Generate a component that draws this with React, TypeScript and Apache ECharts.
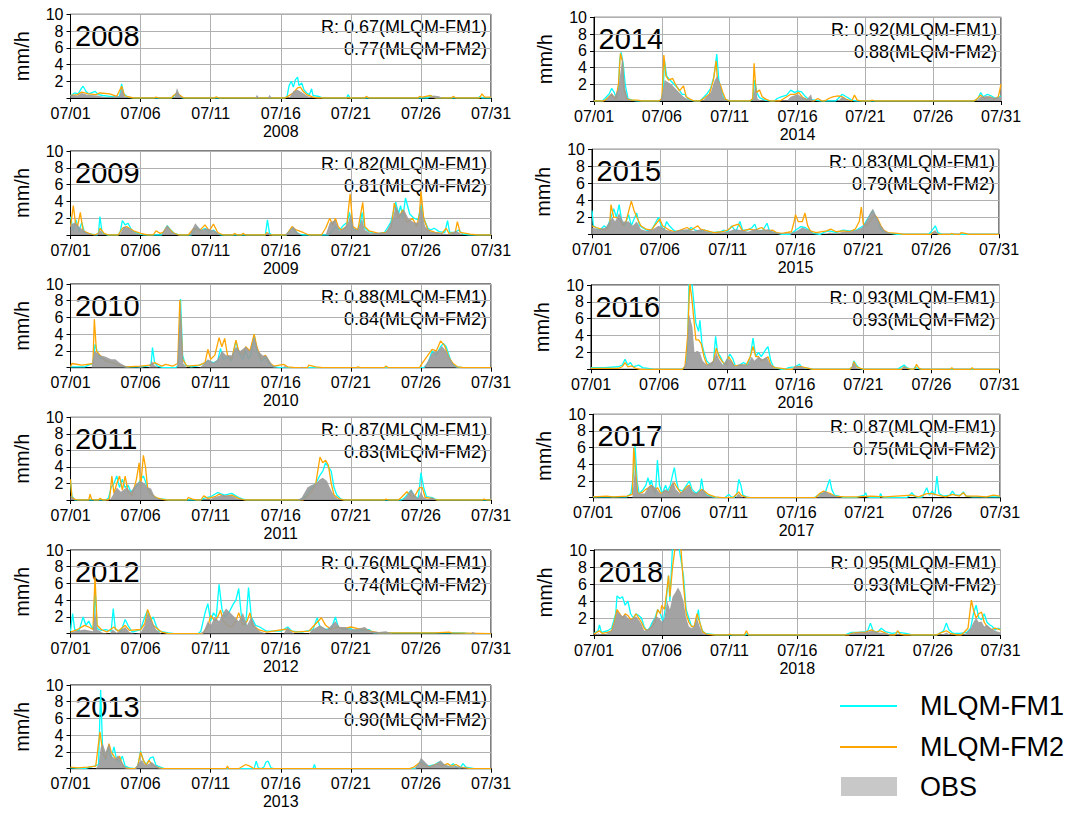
import React, { useEffect, useRef } from 'react';
import * as echarts from 'echarts';

// ---------------- DATA ----------------
const YEARS = [2008, 2009, 2010, 2011, 2012, 2013, 2014, 2015, 2016, 2017, 2018];
const R_FM1 = ['0.67', '0.82', '0.88', '0.87', '0.76', '0.83', '0.92', '0.83', '0.93', '0.87', '0.95'];
const R_FM2 = ['0.77', '0.81', '0.84', '0.83', '0.74', '0.90', '0.88', '0.79', '0.93', '0.75', '0.93'];
const X_TICKS_DAYS = [0, 5, 10, 15, 20, 25, 30];
const Y_TICKS = [2, 4, 6, 8, 10];
const LEGEND_NAMES = ['MLQM-FM1', 'MLQM-FM2', 'OBS'];

// [day offset from 07/01 00:00, mm/h]
const FM1_2008 = [[0,0.3],[0.3,0.6],[0.55,0.5],[0.8,1.2],[0.9,1.4],[1.1,0.8],[1.3,0.5],[1.75,0.8],[2,0.4],[2.3,0.3],[2.8,0.2],[3.3,0.1],[3.5,0.2],[3.65,1.7],[3.8,0.5],[4.1,0.1],[4.5,0],[7.2,0],[7.3,0.1],[7.6,0.6],[7.8,0.1],[8,0],[15.3,0],[15.45,0.2],[15.6,1.5],[15.75,2.0],[15.9,1.3],[16.05,2.2],[16.2,2.5],[16.3,1.5],[16.5,1.8],[16.65,1.0],[16.85,0.6],[17.05,0.4],[17.2,1.1],[17.3,0.3],[17.7,0.2],[18,0],[19.7,0],[19.8,0.4],[19.95,0],[25.5,0],[25.7,0.3],[25.9,0.1],[26.1,0],[29.1,0],[29.2,0.2],[29.35,0],[30,0]];
const FM2_2008 = [[0,0.3],[0.5,0.4],[0.8,0.7],[1.3,0.5],[1.8,0.4],[2.1,0.6],[2.8,0.5],[3.3,0.2],[3.65,1.4],[3.85,0.3],[4.1,0.15],[4.5,0],[6,0],[6.1,0.1],[6.3,0],[7.2,0],[7.35,0.3],[7.6,0.6],[7.9,0.2],[8.1,0],[10.3,0],[10.4,0.15],[10.6,0],[15.3,0],[15.5,0.2],[15.9,0.6],[16.2,1.2],[16.4,1.3],[16.6,0.8],[16.85,0.4],[17.3,0.1],[17.6,0],[21,0],[21.1,0.2],[21.3,0],[24.8,0],[24.9,0.2],[25.1,0.1],[25.7,0.3],[26.0,0],[27.2,0],[27.3,0.2],[27.5,0],[29.2,0],[29.35,0.5],[29.55,0.1],[30,0.1]];
const OBS_2008 = [[0,0.4],[0.5,0.3],[0.8,0.6],[1.2,0.4],[1.9,0.3],[2.5,0.1],[3.5,0.2],[3.65,1.2],[3.85,0.2],[4.1,0],[7.4,0],[7.6,1.2],[7.8,0.3],[8,0],[13.2,0],[13.3,0.4],[13.45,0],[14.1,0],[14.2,0.4],[14.35,0],[15.6,0],[15.9,0.8],[16.2,1.0],[16.5,0.7],[16.85,0.3],[17.2,0],[25.7,0],[25.9,0.3],[26.3,0.2],[26.5,0],[30,0]];

const FM1_2009 = [[0,2.2],[0.2,0.5],[0.4,1.8],[0.6,0.4],[0.8,1.5],[1.0,0.3],[1.5,0.1],[1.9,0],[2.0,0.3],[2.1,2.2],[2.25,0.3],[2.6,0],[3.4,0],[3.55,0.4],[3.7,1.7],[3.9,1.2],[4.1,1.4],[4.4,0.5],[4.8,0.2],[5.2,0],[6.5,0],[6.9,1.1],[7.1,0.7],[7.4,0.2],[7.8,0],[8.6,0],[9.0,0.9],[9.3,0.5],[9.6,0.8],[9.9,0.3],[10.2,0.6],[10.5,0.1],[10.8,0],[13.9,0],[14.05,1.8],[14.2,0.2],[14.4,0],[15.4,0],[15.8,0.9],[16.0,0.5],[16.3,0.1],[16.6,0],[18.4,0],[18.6,0.3],[18.9,1.0],[19.2,0.6],[19.5,1.2],[19.75,1.5],[19.9,2.7],[20.1,0.8],[20.4,0.5],[20.65,1.2],[20.8,2.7],[21.0,0.8],[21.3,0.4],[21.8,0.1],[22.4,0.3],[22.85,1.5],[23.2,3.9],[23.4,2.5],[23.55,3.5],[23.7,2.0],[23.9,4.4],[24.2,2.5],[24.5,2.0],[24.8,1.8],[25.0,3.6],[25.2,2.0],[25.5,0.8],[25.7,0.6],[25.95,0.8],[26.3,0.4],[26.7,0.3],[26.9,1.7],[27.05,0.3],[27.4,0.3],[27.7,0.6],[28.0,0.1],[28.5,0],[30,0]];
const FM2_2009 = [[0,1.0],[0.2,3.5],[0.35,1.5],[0.5,1.0],[0.7,2.7],[0.9,0.5],[1.3,0.2],[1.7,0],[2.0,0.2],[2.1,0.8],[2.4,0.2],[2.7,0],[3.4,0],[3.7,0.8],[4.0,1.0],[4.5,0.5],[5.0,0.2],[5.5,0],[5.9,0],[6.1,0.5],[6.4,0.2],[6.6,0.3],[6.9,1.0],[7.3,0.3],[7.7,0],[8.4,0],[8.8,0.8],[9.2,0.5],[9.6,1.2],[9.9,0.5],[10.2,1.3],[10.5,0.3],[10.9,0],[11.6,0],[11.7,0.2],[11.9,0],[12.2,0],[12.3,0.2],[12.5,0],[13.9,0],[14.0,0.3],[14.2,0],[15.4,0],[15.8,1.0],[16.1,0.6],[16.6,0.3],[17.0,0],[17.9,0],[18.2,0.8],[18.5,2.0],[18.7,1.2],[18.9,2.0],[19.1,1.0],[19.3,0.6],[19.7,1.0],[19.95,4.9],[20.15,1.0],[20.5,0.6],[20.85,3.9],[21.0,1.0],[21.3,0.5],[22.0,0.2],[22.5,0.3],[22.9,1.0],[23.1,3.8],[23.4,2.0],[23.7,3.0],[24.0,1.5],[24.4,2.0],[24.7,1.0],[24.9,2.5],[25.0,5.2],[25.2,2.0],[25.5,0.6],[26.0,0.3],[26.5,0.2],[26.8,0.8],[27.0,0.2],[27.45,0.3],[27.6,1.6],[27.8,0.3],[28.5,0.1],[29,0],[30,0]];
const OBS_2009 = [[0,1.2],[0.3,1.5],[0.6,1.0],[0.9,0.6],[1.2,0.2],[1.6,0],[1.9,0],[2.1,0.6],[2.4,0],[3.5,0],[3.8,1.0],[4.2,0.8],[4.6,0.3],[5.0,0],[6.5,0],[6.9,1.2],[7.2,0.4],[7.6,0],[8.5,0],[8.9,1.4],[9.3,0.6],[9.7,0.8],[10.3,0.5],[10.7,0],[13.9,0],[14.1,0.3],[14.3,0],[15.3,0],[15.6,0.5],[15.9,1.0],[16.2,0.3],[16.5,0],[18.2,0],[18.5,1.5],[18.9,1.8],[19.2,0.5],[19.5,0.8],[19.8,1.5],[20.0,2.5],[20.2,0.8],[20.5,0.6],[20.8,2.0],[21.0,0.6],[21.4,0.2],[22.5,0.3],[23.0,2.0],[23.2,3.5],[23.5,2.5],[23.8,3.0],[24.1,2.0],[24.5,1.5],[24.8,1.5],[25.0,3.5],[25.3,1.0],[25.7,0.4],[26.5,0.2],[27.0,0.1],[27.5,0.5],[28.0,0],[30,0]];

const FM1_2010 = [[0,0.1],[1.0,0.1],[1.6,0.5],[1.75,2.8],[1.9,2.0],[2.1,1.2],[2.4,1.0],[2.8,0.7],[3.2,0.5],[3.6,0.2],[4.0,0.1],[5.0,0.1],[5.5,0.2],[5.75,0.4],[5.85,2.4],[6.0,0.6],[6.2,0.2],[6.6,0],[7.5,0],[7.7,0.3],[7.85,8.2],[8.0,1.5],[8.2,0.3],[8.6,0.1],[9.0,0.2],[9.5,0.5],[9.8,0.8],[10.2,0.6],[10.5,0.8],[10.7,2.3],[10.9,1.0],[11.2,1.3],[11.5,0.8],[11.8,3.2],[12.0,1.8],[12.3,1.0],[12.5,2.0],[12.7,1.0],[12.9,1.7],[13.1,4.0],[13.3,2.0],[13.6,0.8],[13.9,1.2],[14.2,0.4],[14.5,0.1],[15,0],[25.2,0],[25.5,0.5],[25.8,2.0],[26.1,1.5],[26.4,2.5],[26.6,2.9],[26.8,2.5],[27.0,1.5],[27.2,0.5],[27.5,0.1],[28,0],[30,0]];
const FM2_2010 = [[0,0.1],[0.1,0.5],[0.8,0.3],[1.2,0.4],[1.6,0.5],[1.7,5.8],[1.85,2.0],[2.1,1.5],[2.5,0.8],[3.0,0.6],[3.5,0.3],[4.0,0.1],[5.0,0.2],[5.7,0.3],[6.0,0.6],[6.5,0.2],[6.8,0.4],[7.3,0.2],[7.65,0.5],[7.8,8.1],[8.0,1.0],[8.3,0.2],[9.2,0.3],[9.6,0.6],[9.8,2.2],[10.0,1.0],[10.3,1.5],[10.6,3.6],[10.8,2.5],[11.0,3.5],[11.2,1.5],[11.5,1.0],[11.8,3.3],[12.0,2.0],[12.3,1.5],[12.5,2.5],[12.8,2.0],[13.1,4.0],[13.3,2.5],[13.6,1.0],[13.9,1.5],[14.2,0.6],[14.5,0.2],[15.2,0.4],[15.5,0.1],[16,0],[16.9,0],[17.0,0.3],[17.5,0.1],[18,0],[20.4,0],[20.5,0.1],[20.7,0],[22.4,0],[22.5,0.2],[22.7,0],[24.9,0],[25.0,0.3],[25.5,1.5],[25.8,2.2],[26.1,2.0],[26.4,3.2],[26.7,2.6],[27.0,1.2],[27.3,0.5],[27.6,0.1],[28,0],[30,0]];
const OBS_2010 = [[0,0],[1.5,0],[1.7,2.0],[1.9,1.8],[2.1,1.5],[2.5,1.3],[2.9,1.0],[3.2,1.0],[3.5,0.6],[3.9,0.2],[4.3,0],[4.8,0],[5.0,0.2],[5.2,0],[5.6,0],[5.8,0.8],[6.0,0.3],[6.3,0],[7.6,0],[7.85,7.8],[8.05,0.5],[8.3,0],[9.2,0],[9.5,0.4],[9.8,1.0],[10.2,0.6],[10.5,1.0],[10.8,2.0],[11.1,1.5],[11.5,1.5],[11.8,2.5],[12.1,2.0],[12.5,2.5],[12.8,2.0],[13.1,3.8],[13.4,2.0],[13.7,1.5],[14.0,1.4],[14.4,0.3],[14.8,0],[15.1,0],[15.3,0.2],[15.5,0],[16.4,0],[16.5,0.1],[16.7,0],[25.2,0],[25.5,0.8],[25.8,1.8],[26.2,2.0],[26.5,2.6],[26.8,2.0],[27.1,1.0],[27.4,0.2],[27.7,0],[30,0]];

const FM1_2011 = [[0,2.4],[0.1,0.5],[0.3,0],[2.5,0],[2.7,0.2],[2.9,1.5],[3.1,2.0],[3.3,2.9],[3.5,1.5],[3.7,2.5],[3.9,1.5],[4.1,1.8],[4.3,1.0],[4.5,1.2],[4.8,1.8],[5.0,2.5],[5.2,2.9],[5.4,2.0],[5.6,1.0],[5.9,0.5],[6.2,0.2],[6.6,0.1],[7,0],[9.3,0],[9.5,0.2],[10.0,0.4],[10.5,0.9],[11.0,0.6],[11.5,0.8],[12.0,0.3],[12.3,0.1],[12.6,0],[16.4,0],[16.5,0.1],[16.8,0.5],[17.2,1.5],[17.5,2.0],[17.8,3.0],[18.0,3.5],[18.2,4.5],[18.4,4.0],[18.6,3.5],[18.8,1.5],[19.0,0.6],[19.3,0.1],[19.6,0],[23.6,0],[23.8,0.2],[24.1,0.8],[24.3,1.2],[24.5,0.5],[24.8,0.2],[24.9,1.5],[25.0,3.3],[25.2,1.5],[25.4,0.4],[25.8,0.3],[26.0,0.1],[26.3,0],[30,0]];
const FM2_2011 = [[0,2.5],[0.1,0.3],[0.3,0.1],[0.5,0],[1.3,0],[1.4,0.7],[1.5,0.1],[1.7,0],[2.0,0],[2.1,0.2],[2.3,0],[2.7,0],[2.8,0.3],[2.95,2.9],[3.1,0.8],[3.3,2.0],[3.5,2.9],[3.7,1.2],[3.9,2.9],[4.1,1.0],[4.4,0.5],[4.7,2.5],[4.9,4.5],[5.0,1.5],[5.2,5.4],[5.35,4.0],[5.5,1.5],[5.7,0.8],[6.1,0.3],[6.5,0.1],[6.8,0],[8.3,0],[8.4,0.3],[8.7,0.1],[9.0,0],[9.3,0],[9.5,0.5],[9.8,0.2],[10.3,0.4],[10.6,0.7],[11.0,0.4],[11.5,0.6],[12.0,0.2],[12.4,0],[16.6,0],[16.8,0.3],[17.2,1.0],[17.5,2.0],[17.8,5.2],[18.0,4.5],[18.2,4.8],[18.4,4.2],[18.6,2.0],[18.8,0.6],[19.2,0.1],[19.5,0],[22.4,0],[22.5,0.1],[22.7,0],[23.4,0],[23.6,0.3],[24.0,1.0],[24.2,0.6],[24.5,0.3],[24.9,1.5],[25.1,1.5],[25.3,0.3],[25.8,0.2],[26.1,0],[29.4,0],[29.5,0.1],[29.7,0],[30,0]];
const OBS_2011 = [[0,0.5],[0.3,0],[2.8,0],[3.0,0.5],[3.3,1.5],[3.6,1.0],[4.0,1.5],[4.3,1.0],[4.7,2.0],[5.0,2.3],[5.3,2.0],[5.5,1.5],[5.75,1.4],[6.0,0.4],[6.3,0.1],[6.6,0],[9.9,0],[10.2,0.3],[10.8,0.6],[11.5,0.5],[12.0,0.1],[12.3,0],[16.2,0],[16.5,0.3],[16.9,1.5],[17.2,1.8],[17.5,2.0],[17.8,2.5],[18.0,2.7],[18.3,2.3],[18.5,1.5],[18.8,0.5],[19.1,0.1],[19.4,0],[23.7,0],[24.0,0.5],[24.3,1.3],[24.6,0.5],[24.8,0.2],[25.0,1.0],[25.2,0.3],[25.5,0.1],[25.8,0.3],[26.1,0],[30,0]];

const FM1_2012 = [[0,0.3],[0.15,2.4],[0.3,0.5],[0.6,0.3],[0.9,2.0],[1.1,1.0],[1.3,1.5],[1.5,0.8],[1.65,0.5],[1.75,5.5],[1.9,0.6],[2.2,0.4],[2.5,0.5],[2.9,0.3],[3.05,3.0],[3.2,0.5],[3.6,0.3],[3.9,1.7],[4.1,1.0],[4.4,0.2],[5.0,0.5],[5.3,2.0],[5.5,2.8],[5.7,1.5],[5.9,2.0],[6.1,1.0],[6.3,0.3],[7.0,0.1],[7.4,0],[9.1,0],[9.3,0.3],[9.6,2.5],[9.8,3.6],[10.0,1.5],[10.2,2.5],[10.4,2.0],[10.6,5.9],[10.8,3.0],[11.0,2.0],[11.3,2.5],[11.6,3.5],[11.8,4.0],[12.0,5.4],[12.2,2.0],[12.5,1.0],[12.7,5.5],[12.9,2.0],[13.2,1.0],[13.5,0.8],[14.0,0.3],[15.0,0.3],[15.5,0.8],[15.8,0.3],[16.5,0.2],[17.3,0.5],[17.6,1.9],[17.8,0.8],[18.2,0.5],[18.6,0.6],[18.9,2.0],[19.1,0.8],[19.5,0.5],[20.0,0.6],[20.3,0.3],[21.0,0.4],[21.3,0.5],[21.6,0.1],[23,0.1],[28,0.1],[28.5,0],[30,0]];
const FM2_2012 = [[0,0.2],[0.5,0.5],[1.0,1.0],[1.3,0.8],[1.6,0.5],[1.75,6.8],[1.9,1.0],[2.2,0.5],[2.6,0.2],[3.1,0.8],[3.4,0.3],[3.9,1.0],[4.2,0.4],[5.0,0.5],[5.3,1.2],[5.5,2.9],[5.7,2.0],[5.9,1.0],[6.2,0.6],[6.5,0.2],[7,0],[9.4,0],[9.8,0.8],[10.0,2.2],[10.3,1.5],[10.5,2.0],[10.7,2.8],[10.9,1.5],[11.2,1.0],[11.5,0.8],[11.8,1.5],[12.0,2.5],[12.3,1.0],[12.6,1.5],[12.8,2.5],[13.0,1.0],[13.4,0.5],[14.0,0.2],[15.2,0.5],[15.5,0.5],[16.0,0.2],[17.0,0.3],[17.9,1.9],[18.2,1.0],[18.6,0.5],[19.0,0.8],[19.5,0.6],[20.0,0.8],[20.5,0.6],[21.0,0.5],[21.4,0.3],[22.0,0.1],[26.0,0.1],[27.0,0.2],[27.2,0.1],[30,0]];
const OBS_2012 = [[0,0.1],[0.3,0.3],[1.0,0.5],[1.6,0.3],[1.75,3.0],[1.9,0.5],[2.3,0.1],[2.8,0],[3.0,0.5],[3.3,0.1],[3.9,0.8],[4.2,0.2],[4.6,0],[5.0,0.1],[5.3,1.0],[5.5,2.5],[5.8,1.5],[6.1,0.5],[6.5,0],[9.2,0],[9.5,0.3],[9.8,1.5],[10.0,1.0],[10.3,2.0],[10.6,1.5],[10.9,2.5],[11.1,3.0],[11.4,2.5],[11.7,2.0],[12.0,1.5],[12.3,2.5],[12.6,1.0],[12.9,2.0],[13.2,0.8],[13.5,0.3],[14.0,0],[15.2,0],[15.5,0.8],[15.7,0.3],[16.0,0],[17.0,0],[17.2,0.4],[17.8,1.0],[18.3,0.5],[18.9,1.5],[19.2,0.8],[19.6,0.8],[20.0,0.5],[20.5,0.6],[21.0,0.8],[21.4,0.3],[22.0,0.2],[22.5,0.3],[23.0,0],[28.5,0],[28.7,0.2],[29.0,0],[30,0]];

const FM1_2013 = [[0,0.1],[1.0,0],[1.7,0.3],[2.0,0.5],[2.15,9.4],[2.3,2.0],[2.5,1.0],[2.7,2.5],[2.9,1.2],[3.1,2.6],[3.3,1.0],[3.5,0.8],[3.7,1.5],[3.9,0.3],[4.2,0.1],[4.6,0],[4.8,0.3],[5.0,2.1],[5.2,1.0],[5.4,0.5],[5.7,1.3],[5.9,1.4],[6.1,0.4],[6.4,0.2],[6.7,0],[13.1,0],[13.25,0.9],[13.4,0.1],[13.6,0],[13.8,0.2],[13.95,0.8],[14.1,0.9],[14.3,0.1],[14.5,0],[17.3,0],[17.4,0.5],[17.5,0],[24.6,0],[24.7,0.2],[25.0,0.9],[25.2,0.6],[25.5,0.3],[26.0,0.5],[26.3,0.8],[26.6,0.4],[27.0,0.2],[27.3,0.6],[27.5,0.2],[27.8,0.1],[28.0,0.6],[28.2,0.2],[28.5,0.1],[28.8,0],[30,0]];
const FM2_2013 = [[0,0.2],[0.5,0.1],[1.2,0.2],[1.8,0.3],[2.1,4.4],[2.3,2.0],[2.5,1.2],[2.75,3.0],[2.9,2.0],[3.1,1.5],[3.3,1.0],[3.5,1.5],[3.7,0.5],[3.9,0.1],[4.3,0],[4.6,0],[4.8,0.3],[5.0,2.0],[5.2,1.0],[5.4,0.4],[5.6,1.0],[5.8,0.5],[6.0,0.3],[6.3,0.1],[6.6,0],[11.1,0],[11.2,0.3],[11.3,0],[12.0,0],[12.2,0.2],[12.5,0.5],[12.8,0.3],[13.1,0],[24.2,0],[24.5,0.2],[24.9,0.7],[25.2,0.4],[25.6,0.2],[26.2,0.6],[26.5,0.3],[26.9,0.6],[27.2,0.3],[27.5,0.5],[27.8,0.2],[28.2,0.1],[28.5,0],[30,0]];
const OBS_2013 = [[0,0],[1.8,0],[2.0,0.5],[2.15,2.5],[2.3,3.0],[2.5,2.0],[2.75,3.0],[2.95,1.5],[3.2,1.2],[3.4,1.6],[3.6,1.0],[3.9,0.2],[4.2,0],[4.6,0],[4.9,0.8],[5.1,1.0],[5.3,0.5],[5.5,0.5],[5.8,0.8],[6.0,0.5],[6.3,0.1],[6.6,0],[24.5,0],[24.8,0.5],[25.0,1.3],[25.3,0.8],[25.6,0.3],[26.1,0.6],[26.4,1.0],[26.7,0.5],[27.1,0.3],[27.6,0.3],[28.1,0.1],[28.4,0],[30,0]];

const FM1_2014 = [[0,0],[0.6,0],[0.8,0.3],[1.1,0.8],[1.3,1.5],[1.5,1.0],[1.65,0.3],[1.8,1.5],[1.9,5.0],[2.0,5.8],[2.15,4.5],[2.3,2.0],[2.5,0.3],[2.8,0.1],[3.2,0],[4.8,0],[5.0,0.2],[5.1,1.5],[5.2,4.8],[5.35,3.0],[5.6,2.5],[5.9,2.0],[6.2,1.5],[6.5,0.8],[6.7,0.8],[6.9,0.3],[7.1,0.1],[7.4,0],[7.8,0],[8.0,0.3],[8.3,0.8],[8.6,1.5],[8.85,3.0],[9.05,5.6],[9.2,2.5],[9.4,1.2],[9.6,0.3],[9.8,0.1],[10.1,0],[11.5,0],[11.7,0.2],[11.85,2.5],[12.0,1.0],[12.2,0.4],[12.6,0.1],[13.0,0],[13.3,0],[13.5,0.3],[13.8,0.5],[14.2,0.7],[14.5,1.3],[14.8,1.0],[15.0,1.2],[15.3,1.1],[15.6,0.5],[15.8,0.2],[16.3,0.1],[16.7,0],[17.8,0],[18.0,0.3],[18.3,0.8],[18.6,0.5],[19.0,0.1],[19.3,0],[28.0,0],[28.3,0.3],[28.5,1.0],[28.7,0.5],[29.0,0.8],[29.3,0.6],[29.6,0.3],[30,0.6]];
const FM2_2014 = [[0,0],[0.7,0],[0.9,0.2],[1.3,0.8],[1.6,0.2],[1.8,2.0],[1.95,5.7],[2.1,4.7],[2.2,1.5],[2.4,0.3],[2.7,0.1],[3.2,0.1],[3.5,0],[4.8,0],[5.0,0.3],[5.15,5.5],[5.3,3.0],[5.5,2.5],[5.8,2.7],[6.0,2.0],[6.3,1.2],[6.6,1.8],[6.8,0.5],[7.1,0.2],[7.4,0],[7.8,0],[8.0,0.2],[8.5,0.8],[8.8,2.5],[9.0,4.8],[9.1,2.5],[9.3,2.0],[9.5,1.0],[9.7,0.2],[10.0,0],[11.5,0],[11.7,0.3],[11.8,4.5],[11.95,1.0],[12.2,1.3],[12.4,0.5],[12.7,0.2],[13.0,0],[13.7,0],[14.0,0.3],[14.5,0.8],[14.8,0.8],[15.1,1.0],[15.4,0.4],[15.8,0.1],[16.2,0],[16.5,0.3],[16.8,0],[17.0,0],[17.3,0.3],[17.6,0.5],[18.0,0.6],[18.3,0.5],[18.6,0.2],[19.0,0],[19.2,0.7],[19.4,0.1],[19.7,0],[20.4,0],[20.5,0.1],[20.7,0],[28.0,0],[28.2,0.2],[28.5,0.7],[28.8,0.3],[29.2,0.5],[29.5,0.2],[29.8,0.5],[30,2.0]];
const OBS_2014 = [[0,0],[0.8,0],[1.0,0.3],[1.3,1.0],[1.5,0.5],[1.8,1.5],[1.95,3.5],[2.1,5.3],[2.3,1.5],[2.5,0.2],[2.8,0],[4.9,0],[5.05,1.0],[5.2,2.5],[5.4,2.3],[5.7,2.0],[6.0,1.5],[6.3,1.0],[6.6,0.5],[6.9,0.2],[7.2,0],[8.0,0],[8.3,0.5],[8.6,1.0],[8.9,2.5],[9.1,3.0],[9.3,2.0],[9.5,0.5],[9.7,0.1],[10.0,0],[11.7,0],[11.9,2.0],[12.05,0.3],[12.3,0],[14.2,0],[14.5,0.5],[15.0,0.8],[15.3,0.5],[15.7,0.2],[16.0,0.8],[16.1,0.1],[16.3,0],[18.0,0],[18.3,0.5],[18.6,0.2],[18.9,0],[28.2,0],[28.5,0.5],[29.0,0.6],[29.5,0.4],[30,0.5]];

const FM1_2015 = [[0,2.8],[0.1,1.0],[0.3,0.8],[0.6,0.5],[0.9,1.0],[1.1,0.7],[1.4,2.0],[1.6,3.0],[1.8,2.0],[2.0,3.5],[2.2,1.5],[2.4,1.0],[2.7,2.3],[2.9,1.0],[3.1,1.8],[3.3,2.5],[3.5,1.0],[3.7,0.8],[4.0,0.5],[4.3,0.4],[4.5,0.8],[4.9,2.0],[5.1,1.0],[5.3,0.5],[5.5,1.5],[5.7,1.0],[6.0,0.5],[6.3,0.3],[6.6,0.5],[7.0,0.3],[7.3,0.8],[7.6,0.5],[8.0,0.3],[8.3,0.5],[8.8,0.2],[9.5,0.3],[9.7,0.5],[10.0,0.3],[10.3,1.0],[10.6,0.3],[10.9,1.5],[11.1,0.5],[11.5,0.5],[11.8,0.8],[12.0,1.2],[12.2,0.3],[12.6,0.5],[12.9,1.3],[13.1,0.3],[13.5,0.2],[14.0,0],[14.6,0],[14.8,0.2],[15.1,0.6],[15.4,0.9],[15.7,0.8],[16.0,0.5],[16.3,0.1],[16.8,0],[17.2,0.3],[17.5,0.4],[18.0,0.2],[18.5,0.5],[19.0,0.4],[19.5,0.5],[19.8,0.8],[20.0,1.0],[20.3,1.8],[20.5,2.3],[20.7,2.8],[20.9,2.0],[21.1,1.5],[21.3,0.5],[21.6,0.2],[22.0,0.1],[22.5,0],[24.8,0],[25.0,0.3],[25.3,1.0],[25.5,0.2],[25.8,0],[30,0]];
const FM2_2015 = [[0,1.0],[0.3,0.8],[0.7,0.6],[1.0,0.5],[1.3,1.0],[1.4,3.5],[1.6,2.0],[1.8,2.0],[2.0,1.8],[2.3,1.0],[2.5,1.5],[2.9,3.9],[3.1,2.8],[3.3,2.0],[3.6,1.0],[4.0,0.6],[4.4,0.5],[4.6,1.0],[5.0,1.8],[5.2,1.0],[5.4,0.8],[5.7,0.5],[6.1,0.3],[6.5,0.5],[7.0,0.8],[7.3,0.5],[7.8,1.0],[8.0,0.6],[8.5,0.4],[9.0,0.2],[9.6,0.3],[10.0,0.5],[10.4,1.0],[10.8,1.2],[11.1,0.4],[11.6,0.6],[12.0,0.5],[12.5,0.8],[12.8,0.4],[13.3,0.5],[13.6,0.2],[14.0,0.1],[14.7,0.3],[14.9,1.5],[15.0,2.3],[15.2,1.5],[15.5,1.5],[15.7,2.5],[15.9,1.0],[16.1,0.4],[16.5,0.2],[17.3,0.4],[17.6,0.6],[18.0,0.3],[18.5,0.4],[19.0,0.3],[19.4,0.6],[19.7,1.5],[19.85,3.2],[20.0,1.2],[20.2,1.0],[20.5,1.5],[20.8,2.3],[21.0,2.0],[21.3,1.0],[21.5,0.5],[21.8,0.2],[22.5,0.1],[23.0,0],[25.0,0],[25.2,0.3],[25.4,0.1],[25.6,0],[26.4,0],[26.5,0.1],[26.7,0],[27.1,0],[27.2,0.2],[27.5,0.1],[27.8,0],[30,0]];
const OBS_2015 = [[0,0.8],[0.5,0.6],[1.0,0.8],[1.5,2.0],[1.7,1.5],[2.0,2.5],[2.3,1.5],[2.7,1.5],[3.0,1.0],[3.3,1.5],[3.6,0.6],[4.0,0.4],[4.5,0.6],[4.9,1.0],[5.2,0.8],[5.5,0.5],[6.0,0.3],[6.5,0.5],[7.0,0.6],[7.5,0.4],[8.0,0.6],[8.5,0.3],[9.0,0.1],[9.5,0.2],[10.0,0.3],[10.5,0.6],[11.0,0.5],[11.5,0.3],[12.0,0.6],[12.5,0.5],[13.0,0.6],[13.5,0.2],[14.0,0.1],[14.5,0.1],[15.0,0.3],[15.5,0.8],[16.0,0.5],[16.3,0.1],[16.8,0],[17.2,0],[17.5,0.2],[18.0,0.1],[18.5,0.3],[19.0,0.3],[19.5,0.5],[19.9,0.8],[20.2,1.5],[20.5,2.5],[20.7,3.0],[21.0,2.0],[21.3,1.0],[21.6,0.4],[22.0,0.1],[22.4,0],[25.0,0],[25.3,0.5],[25.5,0.1],[25.7,0],[30,0]];

const FM1_2016 = [[0,0.2],[1.0,0.2],[2.0,0.3],[2.3,0.5],[2.5,1.2],[2.7,0.5],[2.9,0.8],[3.1,0.3],[3.5,0.5],[3.8,0.2],[4.2,0.1],[4.6,0],[6.6,0],[6.8,0.1],[7.0,0.5],[7.1,3.0],[7.2,10.6],[7.4,10.4],[7.55,8.0],[7.7,5.5],[7.9,4.5],[8.0,5.8],[8.15,3.0],[8.3,2.0],[8.5,1.0],[8.8,0.5],[9.0,1.0],[9.15,3.9],[9.3,2.0],[9.5,1.5],[9.8,0.5],[10.0,1.2],[10.2,1.8],[10.4,1.3],[10.6,0.4],[10.9,0.5],[11.2,0.8],[11.5,0.5],[11.7,1.5],[11.9,3.7],[12.1,1.5],[12.3,2.0],[12.5,1.5],[12.7,2.0],[12.9,2.5],[13.0,2.7],[13.2,1.0],[13.4,0.3],[13.7,0.1],[14.0,0],[14.3,0],[14.5,0.2],[15.0,0.3],[15.3,0.6],[15.5,0.2],[16.0,0.1],[16.3,0],[19.0,0],[19.2,0.3],[19.3,1.0],[19.5,0.5],[19.7,0.1],[20.0,0],[22.5,0],[22.7,0.2],[23.0,0.5],[23.2,0.2],[23.5,0],[23.7,0],[23.8,0.3],[24.0,0.1],[24.3,0],[30,0]];
const FM2_2016 = [[0,0.1],[2.0,0.1],[2.3,0.3],[2.5,0.8],[2.7,0.3],[3.0,0.4],[3.3,0.1],[3.6,0],[6.7,0],[6.9,0.3],[7.1,4.0],[7.25,10.2],[7.4,8.5],[7.55,6.0],[7.7,3.5],[7.9,3.5],[8.1,3.0],[8.3,1.5],[8.5,0.6],[8.8,0.5],[9.0,1.0],[9.2,2.5],[9.4,1.5],[9.6,1.0],[9.9,0.5],[10.1,1.5],[10.3,1.0],[10.5,0.4],[11.0,0.5],[11.4,0.5],[11.7,1.5],[11.9,2.7],[12.1,1.5],[12.3,1.5],[12.5,1.0],[12.8,1.2],[13.0,1.5],[13.2,0.5],[13.5,0.2],[14.0,0.1],[14.4,0],[14.8,0],[15.0,0.3],[15.5,0.3],[16.0,0.1],[16.3,0],[19.0,0],[19.2,0.3],[19.3,0.9],[19.5,0.3],[19.8,0.1],[20.1,0],[22.8,0],[23.0,0.3],[23.2,0.1],[23.6,0],[23.8,0.1],[23.9,0.6],[24.1,0.1],[24.3,0],[26.4,0],[26.5,0.2],[26.6,0],[27.9,0],[28.0,0.2],[28.1,0],[30,0]];
const OBS_2016 = [[0,0],[6.8,0],[7.0,1.0],[7.1,4.0],[7.2,6.5],[7.3,6.0],[7.45,5.0],[7.6,2.0],[7.8,2.2],[8.0,2.0],[8.2,1.0],[8.5,0.5],[9.0,1.0],[9.2,2.0],[9.4,1.2],[9.7,0.5],[10.0,1.3],[10.3,1.0],[10.6,0.3],[10.9,0.6],[11.2,0.6],[11.5,0.5],[11.8,1.5],[12.0,1.0],[12.3,1.5],[12.6,1.2],[12.9,1.5],[13.1,0.8],[13.4,0.2],[13.7,0],[14.8,0],[15.0,0.4],[15.5,0.3],[15.8,0],[19.1,0],[19.3,0.8],[19.5,0.2],[19.7,0],[22.8,0],[23.0,0.4],[23.2,0.1],[23.4,0],[30,0]];

const FM1_2017 = [[0,0.1],[2.5,0.1],[2.8,0.5],[3.0,3.0],[3.1,6.2],[3.25,2.0],[3.4,0.5],[3.7,1.0],[3.9,1.5],[4.05,2.4],[4.2,1.5],[4.3,2.1],[4.45,1.0],[4.6,0.5],[4.75,4.5],[4.9,1.5],[5.1,0.5],[5.35,1.5],[5.5,0.8],[5.7,1.5],[5.9,3.0],[6.0,3.6],[6.15,2.0],[6.3,1.0],[6.6,0.8],[6.9,1.5],[7.1,2.0],[7.3,1.0],[7.6,0.5],[7.9,1.0],[8.0,2.3],[8.15,0.8],[8.4,0.3],[8.8,0.1],[9.2,0],[9.7,0],[9.8,0.1],[10.0,0.4],[10.2,0.1],[10.4,0],[10.6,0.5],[10.75,2.2],[10.9,1.5],[11.05,0.3],[11.3,0.1],[11.6,0],[16.3,0],[16.5,0.2],[16.8,0.5],[17.1,0.5],[17.3,1.5],[17.45,2.2],[17.6,1.0],[17.8,0.3],[18.1,0.2],[18.5,0],[19.4,0],[19.5,0.1],[20.0,0.3],[20.1,0.6],[20.2,0.1],[20.5,0],[21.1,0],[21.2,0.5],[21.3,0.1],[21.6,0],[23.1,0],[23.3,0.2],[23.5,0.6],[23.7,0.2],[24.0,0],[24.3,0.1],[24.4,0.5],[24.6,1.2],[24.8,0.3],[25.0,0.8],[25.2,0.3],[25.35,2.6],[25.5,0.5],[25.8,0.2],[26.3,0.3],[26.5,0.8],[26.7,0.3],[27.1,0.3],[27.3,0.7],[27.5,0.2],[28.0,0.1],[30,0.1]];
const FM2_2017 = [[0,0.1],[1.0,0.2],[1.5,0.1],[2.5,0.2],[2.9,0.4],[3.0,6.0],[3.15,3.0],[3.3,0.5],[3.6,0.6],[3.9,1.0],[4.1,1.2],[4.3,1.5],[4.5,0.8],[4.75,1.2],[5.0,0.5],[5.3,0.8],[5.6,0.6],[5.8,1.5],[6.0,1.8],[6.2,1.2],[6.5,0.5],[6.9,1.3],[7.1,1.5],[7.3,0.6],[7.6,0.3],[8.0,1.0],[8.2,0.8],[8.5,0.4],[9.0,0.1],[9.5,0],[10.3,0],[10.5,0.3],[10.75,0.7],[10.9,0.3],[11.2,0.1],[11.5,0],[16.4,0],[16.7,0.5],[17.0,0.8],[17.3,0.6],[17.5,0.5],[17.8,0.2],[18.5,0.1],[19.5,0.1],[20.5,0.2],[21.5,0.1],[23.5,0.3],[24.0,0.1],[24.6,0.5],[25.0,0.5],[25.4,0.3],[26.0,0.1],[26.5,0.4],[27.0,0.2],[27.3,0.6],[27.5,0.2],[28.3,0.2],[29.0,0.1],[29.5,0.3],[30,0.2]];
const OBS_2017 = [[0,0],[2.9,0],[3.0,2.0],[3.1,3.5],[3.3,0.5],[3.8,0.5],[4.1,1.3],[4.4,1.5],[4.7,1.0],[5.0,0.4],[5.3,1.0],[5.6,0.8],[5.9,2.0],[6.1,1.0],[6.4,0.5],[6.8,1.0],[7.1,1.5],[7.3,0.8],[7.6,0.5],[7.9,0.8],[8.1,1.0],[8.4,0.3],[8.7,0.1],[9.0,0],[10.5,0],[10.7,0.5],[10.9,0.2],[11.1,0],[16.5,0],[16.8,0.5],[17.1,0.8],[17.4,0.5],[17.7,0.3],[18.0,0.1],[18.3,0],[30,0]];

const FM1_2018 = [[0,0.2],[0.3,0.5],[0.4,1.2],[0.55,0.3],[1.0,0.5],[1.3,0.8],[1.6,2.5],[1.7,4.6],[1.9,4.3],[2.1,4.5],[2.3,3.5],[2.5,4.0],[2.7,2.5],[2.9,2.0],[3.1,2.5],[3.3,2.3],[3.5,2.0],[3.7,1.0],[3.9,0.5],[4.1,0.8],[4.3,1.5],[4.5,2.0],[4.7,3.0],[4.9,2.5],[5.1,1.5],[5.3,3.5],[5.5,7.0],[5.6,4.0],[5.8,10.5],[6.0,11],[6.2,11],[6.4,9.0],[6.6,7.0],[6.8,3.0],[7.0,2.0],[7.2,1.0],[7.4,1.0],[7.6,2.0],[7.7,3.0],[7.8,1.5],[8.0,0.5],[8.2,0.2],[8.6,0.1],[9.0,0],[11.2,0],[11.3,0.2],[11.4,0],[18.5,0],[19.0,0.3],[19.5,0.3],[20.0,0.4],[20.2,0.5],[20.4,1.4],[20.6,0.5],[20.9,0.3],[21.2,0.8],[21.5,0.4],[22.0,0.2],[22.5,0.3],[23.0,0.2],[23.5,0],[25.3,0],[25.5,0.2],[25.8,0.5],[26.0,1.4],[26.2,0.6],[26.5,0.2],[27.0,0.2],[27.5,0.3],[27.8,0.8],[28.0,2.5],[28.2,3.5],[28.4,2.0],[28.6,1.8],[28.8,2.5],[29.0,1.5],[29.2,1.2],[29.4,1.0],[29.6,0.6],[29.8,0.8],[30,0.7]];
const FM2_2018 = [[0,0.1],[0.4,0.5],[0.6,0.2],[1.0,0.3],[1.3,0.5],[1.5,1.5],[1.7,3.0],[1.9,2.5],[2.1,2.0],[2.3,2.5],[2.5,2.3],[2.7,1.8],[2.9,2.0],[3.1,2.5],[3.3,2.0],[3.5,1.5],[3.7,0.8],[3.9,0.5],[4.1,0.7],[4.3,1.0],[4.5,1.5],[4.7,3.0],[4.9,2.5],[5.0,3.5],[5.2,3.0],[5.4,5.5],[5.5,7.0],[5.6,4.5],[5.8,8.0],[6.0,10.5],[6.2,11],[6.4,10.5],[6.6,6.0],[6.8,2.5],[7.0,1.5],[7.2,1.0],[7.4,1.0],[7.6,2.5],[7.8,1.5],[8.0,0.4],[8.3,0.1],[8.8,0],[9.9,0],[10.0,0.1],[10.2,0],[11.1,0],[11.25,0.5],[11.4,0],[18.8,0],[19.0,0.2],[19.5,0.3],[20.0,0.3],[20.3,0.5],[20.5,0.6],[20.8,0.3],[21.1,0.5],[21.4,0.3],[21.8,0],[22.2,0],[22.3,0.2],[22.4,0.5],[22.6,0.1],[22.9,0],[25.3,0],[25.5,0.2],[26.0,0.5],[26.3,0.2],[26.8,0],[27.1,0],[27.3,0.3],[27.6,0.8],[27.85,4.1],[28.0,3.0],[28.2,2.0],[28.4,2.5],[28.6,2.7],[28.8,1.5],[29.0,1.0],[29.3,0.6],[29.6,0.8],[30,0.6]];
const OBS_2018 = [[0,0],[0.2,0],[0.3,0.2],[0.6,0],[0.9,0],[1.0,0.3],[1.3,0.5],[1.5,1.5],[1.7,2.8],[1.9,2.5],[2.1,2.2],[2.3,2.4],[2.5,2.0],[2.7,1.8],[2.9,2.0],[3.1,2.2],[3.3,1.8],[3.5,1.3],[3.7,0.5],[4.0,0.7],[4.2,1.0],[4.4,1.8],[4.6,2.2],[4.8,2.0],[5.0,1.6],[5.2,2.0],[5.4,4.0],[5.6,3.0],[5.8,4.5],[6.0,5.0],[6.2,5.6],[6.4,5.0],[6.6,4.0],[6.8,2.0],[7.0,1.0],[7.2,0.8],[7.4,1.0],[7.6,2.0],[7.8,1.0],[8.0,0.3],[8.2,0.1],[8.5,0],[18.6,0],[18.8,0.1],[19.5,0.3],[20.0,0.3],[20.5,0.5],[21.0,0.3],[21.5,0.2],[22.0,0],[25.7,0],[26.0,0.3],[26.3,0],[27.3,0],[27.5,0.3],[27.8,0.8],[28.0,1.5],[28.2,2.0],[28.4,1.5],[28.6,1.6],[28.8,1.0],[29.0,1.2],[29.3,0.8],[29.6,0.5],[30,0.3]];

const FM1_BY_YEAR = [FM1_2008, FM1_2009, FM1_2010, FM1_2011, FM1_2012, FM1_2013, FM1_2014, FM1_2015, FM1_2016, FM1_2017, FM1_2018];
const FM2_BY_YEAR = [FM2_2008, FM2_2009, FM2_2010, FM2_2011, FM2_2012, FM2_2013, FM2_2014, FM2_2015, FM2_2016, FM2_2017, FM2_2018];
const OBS_BY_YEAR = [OBS_2008, OBS_2009, OBS_2010, OBS_2011, OBS_2012, OBS_2013, OBS_2014, OBS_2015, OBS_2016, OBS_2017, OBS_2018];

// ---------------- LAYOUT / STYLE ----------------
const FONT = '"Liberation Sans", Arial, Helvetica, sans-serif';
const C_FM1 = '#00ffff';
const C_FM2 = '#ffa500';
const C_OBS = '#999999';
const C_GRID = '#b0b0b0';

// plot-area boxes [left, top, right, bottom] in px
const BOXES = [
  [70.5, 14.3, 491, 98],
  [70.5, 151, 491, 235],
  [70.5, 284, 491, 367.7],
  [70.5, 417.3, 491, 500],
  [70.5, 550, 491, 633.7],
  [70.5, 685, 491, 768.7],
  [594, 17.3, 1001, 101],
  [592, 149.3, 999, 234.3],
  [591, 285, 999.5, 369.3],
  [593, 414.3, 1000, 497.7],
  [594, 550, 1000.5, 635],
];

function buildOption() {
  const grid: any[] = [];
  const xAxis: any[] = [];
  const yAxis: any[] = [];
  const series: any[] = [];
  const graphic: any[] = [];

  BOXES.forEach((b, i) => {
    const [l, t, r, btm] = b;
    grid.push({
      left: l, top: t, width: r - l, height: btm - t,
      show: true, borderColor: '#000', borderWidth: 1, backgroundColor: 'transparent',
    });
    xAxis.push({
      type: 'value', gridIndex: i, min: X_TICKS_DAYS[0], max: X_TICKS_DAYS[X_TICKS_DAYS.length - 1], interval: 5,
      name: String(YEARS[i]), nameLocation: 'middle', nameGap: 25,
      nameTextStyle: { fontSize: 16, color: '#000', fontFamily: FONT },
      axisLine: { show: true, onZero: false, lineStyle: { color: '#000', width: 1 } },
      axisTick: { show: true, length: 4, lineStyle: { color: '#000' } },
      axisLabel: {
        fontSize: 16, color: '#000', fontFamily: FONT, margin: 7,
        showMinLabel: true, showMaxLabel: true,
        formatter: (v: number) => '07/' + String(Math.round(v) + 1).padStart(2, '0'),
      },
      splitLine: { show: true, lineStyle: { color: C_GRID, width: 1 } },
    });
    yAxis.push({
      type: 'value', gridIndex: i, min: 0, max: Y_TICKS[Y_TICKS.length - 1], interval: 2,
      axisLine: { show: true, lineStyle: { color: '#000', width: 1 } },
      axisTick: { show: true, length: 4, lineStyle: { color: '#000' } },
      axisLabel: {
        fontSize: 16, color: '#000', fontFamily: FONT, margin: 7,
        formatter: (v: number) => (v === 0 ? '' : String(v)),
      },
      splitLine: { show: true, lineStyle: { color: C_GRID, width: 1 } },
    });

    series.push({
      type: 'line', name: LEGEND_NAMES[0], xAxisIndex: i, yAxisIndex: i, data: FM1_BY_YEAR[i],
      symbol: 'none', silent: true, clip: true,
      lineStyle: { color: C_FM1, width: 1.3 }, z: 2,
    });
    series.push({
      type: 'line', name: LEGEND_NAMES[1], xAxisIndex: i, yAxisIndex: i, data: FM2_BY_YEAR[i],
      symbol: 'none', silent: true, clip: true,
      lineStyle: { color: C_FM2, width: 1.3 }, z: 3,
    });
    series.push({
      type: 'line', name: LEGEND_NAMES[2], xAxisIndex: i, yAxisIndex: i, data: OBS_BY_YEAR[i],
      symbol: 'none', silent: true, clip: true,
      lineStyle: { width: 0, color: C_OBS }, areaStyle: { color: C_OBS, opacity: 0.9 }, z: 4,
    });

    graphic.push({
      type: 'text', x: l + 4.5, y: t + 21.5, silent: true,
      style: { text: String(YEARS[i]), fontSize: 29, fontFamily: FONT, fill: '#000', textAlign: 'left', textVerticalAlign: 'middle' },
    });
    graphic.push({
      type: 'text', x: r - 4, y: t + 13, silent: true,
      style: { text: 'R: ' + R_FM1[i] + '(MLQM-FM1)', fontSize: 18, fontFamily: FONT, fill: '#000', textAlign: 'right', textVerticalAlign: 'middle' },
    });
    graphic.push({
      type: 'text', x: r - 4, y: t + 35, silent: true,
      style: { text: R_FM2[i] + '(MLQM-FM2)', fontSize: 18, fontFamily: FONT, fill: '#000', textAlign: 'right', textVerticalAlign: 'middle' },
    });
    graphic.push({
      type: 'text', x: l - 49, y: (t + btm) / 2, rotation: Math.PI / 2, silent: true,
      style: { text: 'mm/h', fontSize: 20, fontFamily: FONT, fill: '#000', textAlign: 'center', textVerticalAlign: 'middle' },
    });
  });

  // legend
  const LX = 840, LW = 57, TX = 920;
  const LY = [706, 747, 786.5];
  graphic.push({ type: 'line', silent: true, shape: { x1: LX, y1: LY[0], x2: LX + LW, y2: LY[0] }, style: { stroke: C_FM1, lineWidth: 2 } });
  graphic.push({ type: 'line', silent: true, shape: { x1: LX, y1: LY[1], x2: LX + LW, y2: LY[1] }, style: { stroke: C_FM2, lineWidth: 2 } });
  graphic.push({ type: 'rect', silent: true, shape: { x: LX + 1, y: LY[2] - 9.5, width: LW - 1, height: 19 }, style: { fill: '#c8c8c8' } });
  LEGEND_NAMES.forEach((n, k) => {
    graphic.push({
      type: 'text', x: TX, y: LY[k], silent: true,
      style: { text: n, fontSize: 27, fontFamily: FONT, fill: '#000', textAlign: 'left', textVerticalAlign: 'middle' },
    });
  });

  return {
    animation: false,
    backgroundColor: '#ffffff',
    textStyle: { fontFamily: FONT },
    grid, xAxis, yAxis, series, graphic,
  };
}

export default function App() {
  const ref = useRef<HTMLDivElement>(null);
  useEffect(() => {
    if (!ref.current) return;
    const chart = echarts.init(ref.current, undefined, { renderer: 'svg' });
    chart.setOption(buildOption() as any);
    return () => chart.dispose();
  }, []);
  return (
    <div
      ref={ref}
      style={{ position: 'fixed', left: 0, top: 0, width: 1070, height: 813, background: '#fff' }}
    />
  );
}
